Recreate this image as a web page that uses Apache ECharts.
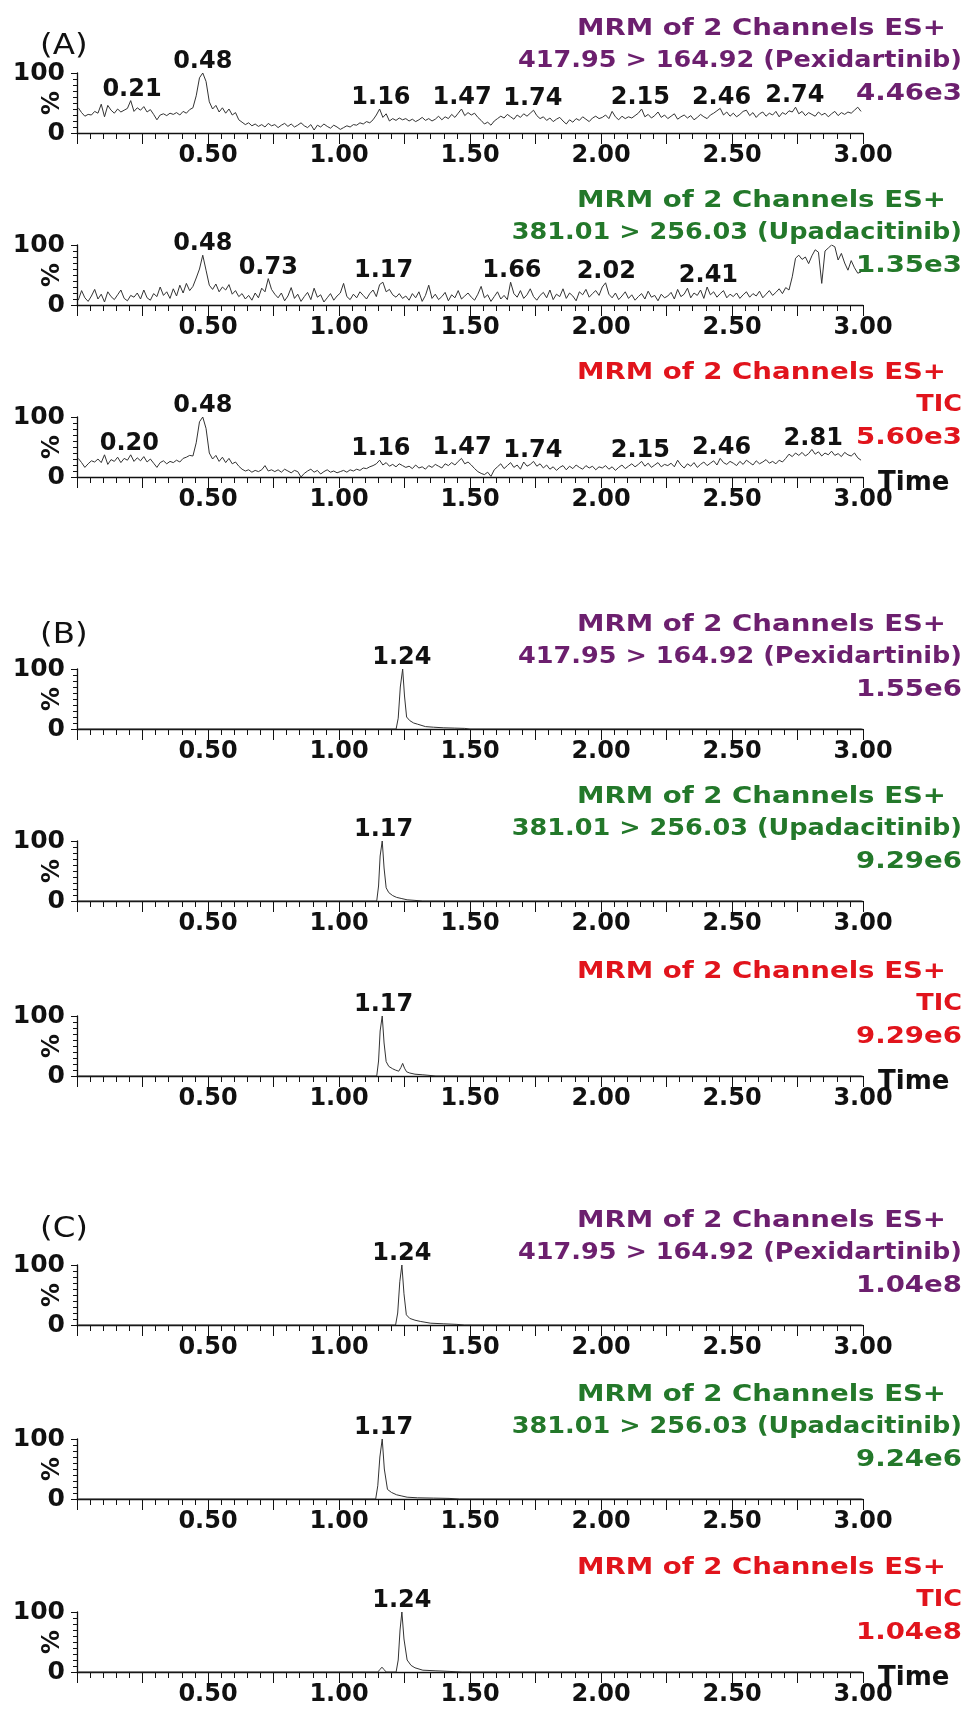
<!DOCTYPE html>
<html><head><meta charset="utf-8">
<script src="https://cdn.jsdelivr.net/npm/echarts@6/dist/echarts.min.js"></script>
<style>html,body{margin:0;padding:0;background:#fff}#chart{width:967px;height:1716px}</style>
</head><body><div id="chart"></div>
<script>
// ================= DATA =================
const xTickLabels = [0.5, 1.0, 1.5, 2.0, 2.5, 3.0];
const channelTitle = 'MRM of 2 Channels ES+';
const channelNames = ['417.95 > 164.92 (Pexidartinib)', '381.01 > 256.03 (Upadacitinib)', 'TIC'];
const intensities = [['4.46e3', '1.35e3', '5.60e3'], ['1.55e6', '9.29e6', '9.29e6'], ['1.04e8', '9.24e6', '1.04e8']];
const panelLetters = ['(A)', '(B)', '(C)'];

// (A) blank traces: regular scans from scanStart every scanStep min, relative intensity %
const scanStart = 0.005, scanStep = 0.0125;
const blankPex = [
 42,34,28,31,30,36,33,48,27,46,38,33,40,35,38,41,54,36,42,38,
 44,35,39,31,22,30,32,29,33,31,34,30,36,33,39,42,62,92,100,86,
 52,40,46,35,42,33,40,30,34,22,18,14,17,12,15,11,14,10,16,12,
 14,9,13,16,11,15,10,13,17,12,9,14,5,13,10,15,11,8,13,10,
 6,9,12,10,14,13,17,15,19,17,22,30,40,26,32,20,24,21,25,22,
 24,20,23,19,22,26,21,24,20,23,28,22,27,24,31,26,33,40,29,34,
 30,33,26,21,15,18,13,20,24,28,25,31,27,23,30,26,32,28,33,38,
 29,24,27,21,25,19,23,26,20,15,22,18,24,21,27,23,19,25,28,24,
 26,30,24,36,27,22,28,24,27,25,29,33,40,27,31,25,29,35,26,30,
 24,28,32,23,27,30,25,29,22,26,31,27,24,30,33,37,41,30,35,28,
 33,27,31,36,38,29,34,26,32,35,28,33,30,36,27,34,31,37,35,43,
 32,36,29,34,31,28,35,30,33,27,32,36,29,34,31,35,33,38,43,36
];
const blankUpa = [
 8,24,12,6,15,26,10,18,5,22,14,9,17,25,11,7,16,13,20,10,
 25,12,8,19,14,30,16,22,11,27,15,33,20,36,24,31,45,60,83,58,
 33,26,35,22,30,25,34,18,24,14,19,10,16,8,20,12,28,22,44,26,
 18,12,20,7,15,29,11,18,6,14,21,9,28,13,17,5,12,19,8,15,
 20,36,14,9,18,12,22,16,10,19,25,14,34,38,22,26,17,13,19,11,
 15,8,19,12,22,6,16,33,11,18,9,14,21,7,17,12,24,10,15,20,
 13,8,18,31,12,17,6,14,22,10,16,9,38,19,13,24,11,17,27,14,
 8,16,21,12,25,9,18,14,27,11,20,15,7,22,17,26,13,19,24,16,
 30,37,18,12,20,9,15,22,11,17,8,14,19,10,23,13,16,7,18,12,
 15,21,10,26,14,18,28,12,20,16,25,11,30,17,22,13,19,24,12,18,
 14,20,11,17,22,13,19,15,23,12,18,24,16,21,27,19,29,25,47,78,
 83,76,80,69,82,92,88,36,90,95,100,97,75,86,70,58,74,62,53,55
];
const blankTic = [
 31,24,16,22,27,25,30,24,37,21,29,26,33,24,31,28,37,26,32,27,
 34,25,30,23,16,24,27,22,26,24,28,25,31,33,36,35,57,92,100,81,
 40,30,36,26,33,24,31,22,25,18,13,10,12,8,11,9,12,19,10,12,
 9,12,8,13,10,7,11,9,0,6,10,13,8,11,5,9,12,8,10,7,
 9,11,8,12,10,13,11,15,14,17,19,22,28,20,24,18,21,17,22,19,
 16,18,14,20,15,17,13,19,16,21,18,15,22,19,24,20,26,31,22,25,
 20,14,9,6,4,8,1,12,17,22,14,19,24,16,20,13,25,18,21,26,
 18,22,15,20,13,17,11,16,19,12,18,14,20,16,13,19,15,18,12,17,
 15,19,13,17,11,16,20,14,18,22,17,21,26,18,23,16,20,24,17,21,
 19,23,17,28,20,15,22,18,24,16,21,25,19,23,27,20,31,24,21,26,
 23,19,26,21,28,24,20,27,22,25,29,23,26,22,28,25,31,38,34,40,
 36,41,35,39,46,38,42,35,40,37,43,36,39,34,41,37,35,40,32,28
];
const blankPexPeakT = [0.21, 0.48, 1.16, 1.47, 1.74, 2.15, 2.46, 2.74];
const blankPexPeakH = [54, 100, 40, 40, 38, 40, 41, 43];
const blankUpaPeakT = [0.48, 0.73, 1.17, 1.66, 2.02, 2.41];
const blankUpaPeakH = [83, 44, 38, 38, 37, 30];
const blankTicPeakT = [0.20, 0.48, 1.16, 1.47, 1.74, 2.15, 2.46, 2.81];
const blankTicPeakH = [37, 100, 28, 31, 26, 26, 31, 46];

// (B) traces: time (min) / relative intensity %
const bPexT = [0.005, 1.218, 1.226, 1.234, 1.243, 1.25, 1.258, 1.27, 1.285, 1.30, 1.33, 1.36, 1.40, 1.44, 1.48, 1.50, 2.995];
const bPexV = [0, 0, 18, 70, 100, 55, 20, 14, 10, 8, 4, 3, 2, 1.5, 1, 0, 0];
const bUpaT = [0.005, 1.144, 1.151, 1.157, 1.165, 1.172, 1.18, 1.19, 1.205, 1.22, 1.24, 1.26, 1.29, 1.32, 2.995];
const bUpaV = [0, 0, 25, 75, 100, 55, 22, 14, 9, 6, 4, 2, 1, 0, 0];
const bTicT = [0.005, 1.144, 1.151, 1.157, 1.165, 1.172, 1.18, 1.19, 1.205, 1.215, 1.228, 1.236, 1.243, 1.25, 1.258, 1.27, 1.29, 1.32, 1.37, 2.995];
const bTicV = [0, 0, 25, 75, 100, 55, 24, 16, 12, 10, 8, 14, 21, 13, 7, 5, 3, 2, 0, 0];
const bPeakT = [[1.24], [1.17], [1.17]];
const bPeakH = [[100], [100], [100]];

// (C) traces
const cPexT = [0.005, 1.216, 1.224, 1.232, 1.24, 1.248, 1.257, 1.27, 1.29, 1.31, 1.35, 1.40, 1.45, 1.48, 2.995];
const cPexV = [0, 0, 20, 72, 100, 52, 17, 11, 8, 6, 3, 2, 1, 0, 0];
const cUpaT = [0.005, 1.14, 1.148, 1.156, 1.165, 1.173, 1.185, 1.2, 1.22, 1.24, 1.26, 1.30, 1.36, 1.42, 1.46, 2.995];
const cUpaV = [0, 0, 22, 70, 100, 50, 16, 11, 7, 5, 3, 2, 1.5, 1, 0, 0];
const cTicT = [0.005, 1.148, 1.156, 1.164, 1.172, 1.18, 1.218, 1.226, 1.233, 1.24, 1.248, 1.26, 1.275, 1.29, 1.32, 1.37, 1.42, 1.47, 2.995];
const cTicV = [0, 0, 4, 8, 4, 0, 0, 20, 70, 100, 55, 20, 11, 7, 3, 2, 1, 0, 0];
const cPeakT = [[1.24], [1.17], [1.24]];
const cPeakH = [[100], [100], [100]];

// ================= LAYOUT / STYLE =================
const FONT = '"DejaVu Sans", "Liberation Sans", Arial, sans-serif';
const INK = '#111111', TRACE = '#333333';
const channelColors = ['#6c1f6e', '#23782a', '#e1141c'];
const baselines = [133, 305, 477, 729, 901, 1076, 1325, 1499, 1672];
const letterY = [46, 635, 1229];
const plotH = 60, plotL = 77, plotR = 104;
const lineStretch = [1.2, 1.11, 1.2];

const scanTimes = blankPex.map((_, i) => scanStart + i * scanStep);
const panels = [
  {t: scanTimes, v: blankPex, pt: blankPexPeakT, ph: blankPexPeakH},
  {t: scanTimes, v: blankUpa, pt: blankUpaPeakT, ph: blankUpaPeakH},
  {t: scanTimes, v: blankTic, pt: blankTicPeakT, ph: blankTicPeakH},
  {t: bPexT, v: bPexV, pt: bPeakT[0], ph: bPeakH[0]},
  {t: bUpaT, v: bUpaV, pt: bPeakT[1], ph: bPeakH[1]},
  {t: bTicT, v: bTicV, pt: bPeakT[2], ph: bPeakH[2]},
  {t: cPexT, v: cPexV, pt: cPeakT[0], ph: cPeakH[0]},
  {t: cUpaT, v: cUpaV, pt: cPeakT[1], ph: cPeakH[1]},
  {t: cTicT, v: cTicV, pt: cPeakT[2], ph: cPeakH[2]}
];

const grids = [], xAxes = [], yAxes = [], series = [], graphics = [];
panels.forEach((p, k) => {
  const g = Math.floor(k / 3), c = k % 3, base = baselines[k];
  grids.push({left: plotL, right: plotR, top: base - plotH, height: plotH});
  xAxes.push({
    type: 'value', gridIndex: k, min: 0, max: 3, interval: 0.25,
    axisLine: {show: true, onZero: false, lineStyle: {color: INK, width: 1.3}},
    axisTick: {show: true, length: 11, lineStyle: {color: INK, width: 1}},
    minorTick: {show: true, splitNumber: 5, length: 6, lineStyle: {color: INK, width: 1}},
    splitLine: {show: false},
    axisLabel: {
      margin: 11, color: INK, fontSize: 24, fontWeight: 'bold', fontFamily: FONT,
      showMaxLabel: true, showMinLabel: true,
      formatter: v => xTickLabels.some(t => Math.abs(t - v) < 1e-6) ? v.toFixed(2) : ''
    },
    name: c === 2 ? 'Time' : '', nameLocation: 'end', nameGap: 15, nameMoveOverlap: false,
    nameTextStyle: {color: INK, fontSize: 26, fontWeight: 'bold', fontFamily: FONT, verticalAlign: 'top', lineHeight: 12}
  });
  yAxes.push({
    type: 'value', gridIndex: k, min: 0, max: 100, interval: 100,
    axisLine: {show: true, lineStyle: {color: INK, width: 1.3}},
    axisTick: {show: true, length: 6, lineStyle: {color: INK}},
    minorTick: {show: true, splitNumber: 10, length: 4, lineStyle: {color: INK}},
    splitLine: {show: false},
    axisLabel: {margin: 12, color: INK, fontSize: 25, fontWeight: 'bold', fontFamily: FONT},
    name: '%', nameLocation: 'middle', nameRotate: 90, nameGap: 12, nameMoveOverlap: false,
    nameTextStyle: {color: INK, fontSize: 24, fontWeight: 'bold', fontFamily: FONT}
  });
  series.push({
    type: 'line', xAxisIndex: k, yAxisIndex: k, showSymbol: false, silent: true,
    lineStyle: {color: TRACE, width: 1}, itemStyle: {color: TRACE},
    data: p.v.map((y, i) => [p.t[i], y]),
    markPoint: {
      symbol: 'circle', symbolSize: 0, silent: true,
      label: {show: true, position: 'top', distance: -1, color: INK, fontSize: 24, fontWeight: 'bold', fontFamily: FONT,
              formatter: q => q.name},
      data: p.pt.map((t, j) => ({name: t.toFixed(2), coord: [t, p.ph[j]]}))
    }
  });
  const col = channelColors[c];
  const lines = [
    {text: channelTitle, x: 946, y: base - 104},
    {text: channelNames[c], x: 962, y: base - 72},
    {text: intensities[g][c], x: 962, y: base - 39}
  ];
  lines.forEach((l, j) => graphics.push({
    type: 'text', x: l.x, y: l.y, scaleX: lineStretch[j], silent: true,
    style: {text: l.text, fill: col, fontSize: 23, fontWeight: 'bold', fontFamily: FONT,
            textAlign: 'right', textVerticalAlign: 'middle', align: 'right', verticalAlign: 'middle'}
  }));
});
panelLetters.forEach((s, g) => graphics.push({
  type: 'text', x: 40, y: letterY[g], scaleX: 1.12, silent: true,
  style: {text: s, fill: INK, fontSize: 29, fontFamily: FONT, textAlign: 'left', textVerticalAlign: 'middle', align: 'left', verticalAlign: 'middle'}
}));

const chart = echarts.init(document.getElementById('chart'));
chart.setOption({
  backgroundColor: '#ffffff', animation: false,
  grid: grids, xAxis: xAxes, yAxis: yAxes, series: series, graphic: graphics
});
</script></body></html>
